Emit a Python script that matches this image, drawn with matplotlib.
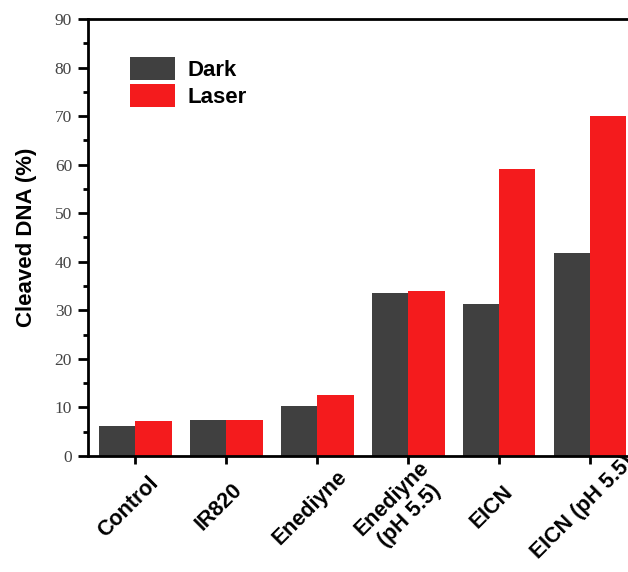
import matplotlib
matplotlib.use("Agg")
import matplotlib.pyplot as plt
import numpy as np
from matplotlib.ticker import MultipleLocator
from matplotlib.transforms import ScaledTranslation

categories = ["Control", "IR820", "Enediyne", "Enediyne\n(pH 5.5)", "EICN", "EICN (pH 5.5)"]
dark = [6.2, 7.4, 10.4, 33.6, 31.3, 41.9]
laser = [7.2, 7.5, 12.6, 34.0, 59.2, 70.0]
series_names = ["Dark", "Laser"]

dark_color = "#404040"
red_color = "#f41b1d"

fig = plt.figure(figsize=(6.28, 5.72), dpi=100)
ax = fig.add_axes([88/628, 116/572, 547.5/628, 437/572])

x = np.arange(len(categories))
w = 0.4
ax.bar(x - w/2, dark, width=w, color=dark_color, label=series_names[0], zorder=2)
ax.bar(x + w/2, laser, width=w, color=red_color, label=series_names[1], zorder=2)

ax.set_xlim(-0.52, 5.5)
ax.set_ylim(0, 90)
ax.yaxis.set_major_locator(MultipleLocator(10))
ax.yaxis.set_minor_locator(MultipleLocator(5))
ax.set_xticks(x)

for s in ax.spines.values():
    s.set_linewidth(2.0)

ax.tick_params(axis="y", which="major", direction="out", length=7, width=2.0,
               labelsize=12.5, labelcolor="#444444", pad=4.5)
ax.tick_params(axis="y", which="minor", direction="out", length=3.5, width=2.0)
ax.tick_params(axis="x", which="major", direction="out", length=6, width=2.0, pad=31)

for lab in ax.get_yticklabels():
    lab.set_fontfamily("Liberation Serif")

ax.set_xticklabels(categories, rotation=45, rotation_mode="anchor", ha="center", va="center",
                   fontsize=15.5, fontweight="bold", fontfamily="Liberation Sans",
                   multialignment="center")
off = ScaledTranslation(-7/100, 0, fig.dpi_scale_trans)
for lab in ax.get_xticklabels():
    lab.set_transform(lab.get_transform() + off)

ax.set_ylabel("Cleaved DNA (%)", fontsize=16, fontweight="bold", fontfamily="Liberation Sans",
              labelpad=13)

leg = ax.legend(loc="upper left", bbox_to_anchor=(0.077, 0.913), frameon=False,
                prop={"family": "Liberation Sans", "weight": "bold", "size": 16},
                handlelength=2.0, handleheight=1.2, handletextpad=0.6,
                labelspacing=0.15, borderpad=0, borderaxespad=0)

fig.savefig("out.png", dpi=100)
